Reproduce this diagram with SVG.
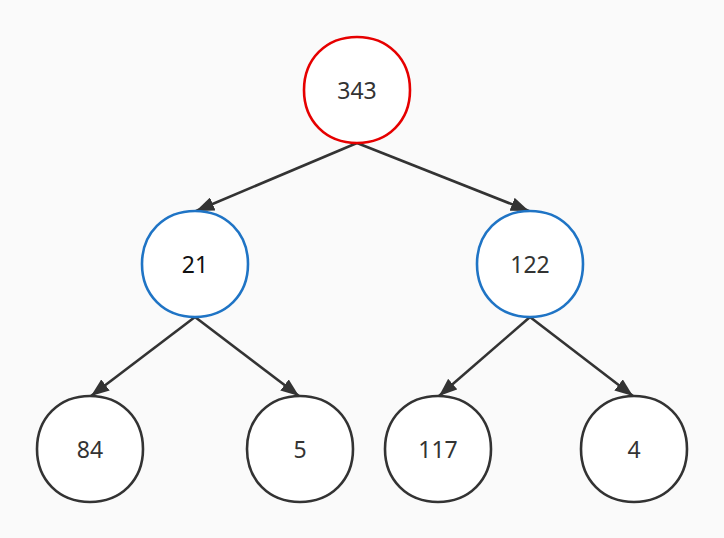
<svg xmlns="http://www.w3.org/2000/svg" width="724" height="538" viewBox="0 0 724 538">
<style>
.n{fill:#ffffff;stroke-width:2.6}
.blk{stroke:#333333}
.red{stroke:#e60000}
.blue{stroke:#1f74c5}
.t{font-family:"Noto Sans","Open Sans","DejaVu Sans",sans-serif;font-size:23px;fill:#333333;text-anchor:middle;dominant-baseline:central}
.e{stroke:#333333;stroke-width:2.6;fill:none;marker-end:url(#ah)}
</style>
<defs>
<marker id="ah" viewBox="0 0 13 10" refX="13" refY="5" markerWidth="7" markerHeight="5.4" markerUnits="strokeWidth" orient="auto">
<path d="M0,0 L13,5 L0,10 z" fill="#333333"/>
</marker>
<path id="sq" d="M0,-53 C31,-53 53,-31 53,0 C53,31 31,53 0,53 C-31,53 -53,31 -53,0 C-53,-31 -31,-53 0,-53 Z"/>
</defs>
<rect width="724" height="538" fill="#fafafa"/>
<g id="connectors">
<line class="e" x1="357" y1="143" x2="196" y2="211"/>
<line class="e" x1="357" y1="143" x2="529" y2="211"/>
<line class="e" x1="195" y1="317" x2="91" y2="396"/>
<line class="e" x1="195" y1="317" x2="299" y2="396"/>
<line class="e" x1="530" y1="317" x2="439" y2="396"/>
<line class="e" x1="530" y1="317" x2="633" y2="396"/>
</g>
<g id="n343"><use href="#sq" class="n red" transform="translate(357,90)"/><text class="t" x="357" y="90">343</text></g>
<g id="n21"><use href="#sq" class="n blue" transform="translate(195,264)"/><text class="t" x="195" y="264" style="fill:#111">21</text></g>
<g id="n122"><use href="#sq" class="n blue" transform="translate(530,264)"/><text class="t" x="530" y="264">122</text></g>
<g id="n84"><use href="#sq" class="n blk" transform="translate(90,449)"/><text class="t" x="90" y="449">84</text></g>
<g id="n5"><use href="#sq" class="n blk" transform="translate(300,449)"/><text class="t" x="300" y="449">5</text></g>
<g id="n117"><use href="#sq" class="n blk" transform="translate(438,449)"/><text class="t" x="438" y="449">117</text></g>
<g id="n4"><use href="#sq" class="n blk" transform="translate(634,449)"/><text class="t" x="634" y="449">4</text></g>
</svg>
